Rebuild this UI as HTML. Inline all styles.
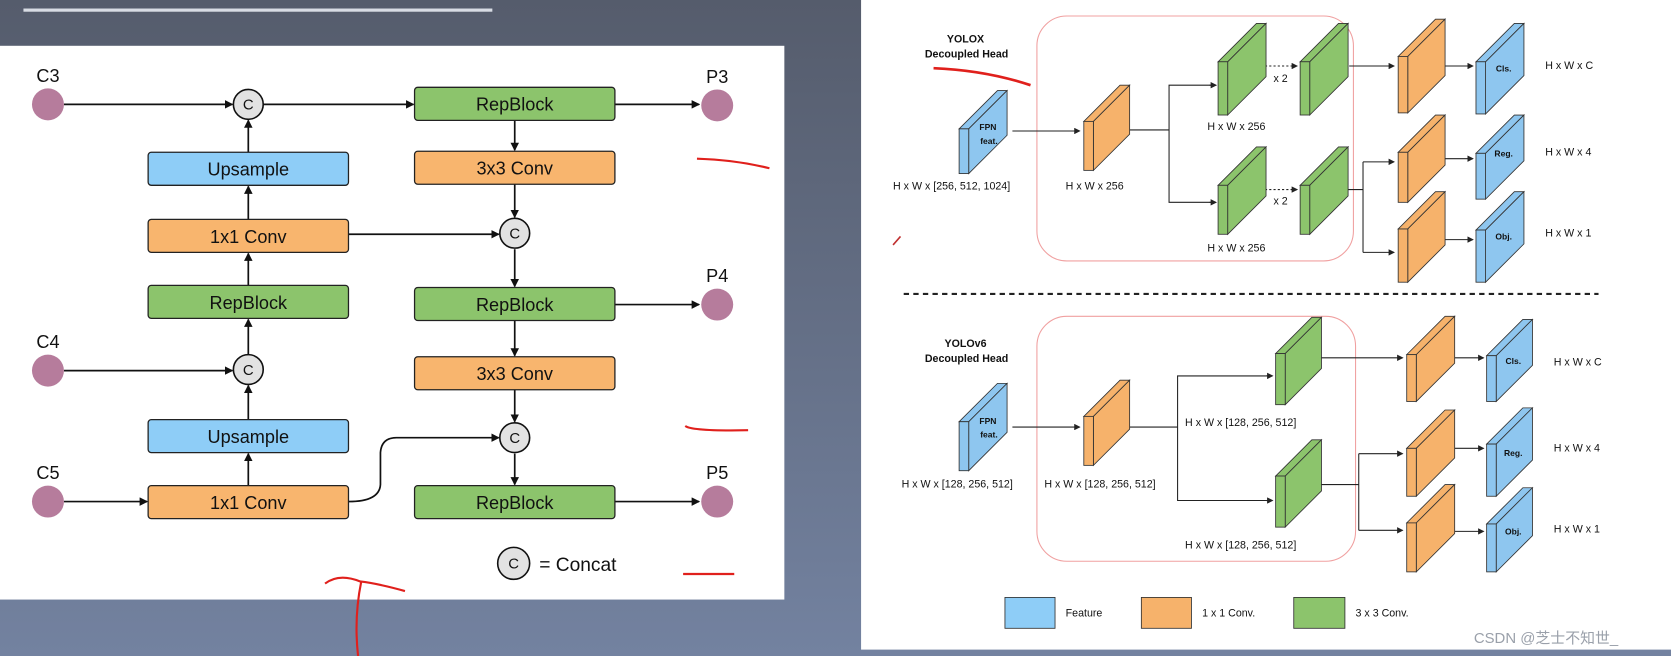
<!DOCTYPE html>
<html><head><meta charset="utf-8"><style>
html,body{margin:0;padding:0;width:1671px;height:656px;overflow:hidden;background:#5f6a80}
svg{display:block}
text{font-family:"Liberation Sans","Noto Sans CJK SC",sans-serif}
</style></head><body>
<svg id="s" width="1671" height="656" viewBox="0 0 1568 616" preserveAspectRatio="none" xmlns="http://www.w3.org/2000/svg">
<defs>
<linearGradient id="bg" x1="0" y1="0" x2="0" y2="1"><stop offset="0" stop-color="#555c6c"/><stop offset="1" stop-color="#7382a0"/></linearGradient>
<marker id="a" markerWidth="8" markerHeight="8" refX="7" refY="4" orient="auto" markerUnits="userSpaceOnUse"><path d="M0,0 L8,4 L0,8 Z" fill="#111"/></marker>
<marker id="b" markerWidth="6" markerHeight="6" refX="5" refY="3" orient="auto" markerUnits="userSpaceOnUse"><path d="M0,0 L6,3 L0,6 Z" fill="#222"/></marker>
</defs>
<rect width="1568" height="616" fill="url(#bg)"/>
<rect x="22" y="8" width="440" height="3" fill="#d8dce4"/>
<rect x="0" y="43" width="736" height="520" fill="#fff"/>
<rect x="808" y="0" width="760" height="610" fill="#fff"/>

<!-- LEFT -->
<g stroke="#111" stroke-width="1.6" fill="none" marker-end="url(#a)">
<line x1="60" y1="98" x2="218" y2="98"/>
<line x1="247" y1="98" x2="388" y2="98"/>
<line x1="577" y1="98" x2="656" y2="98"/>
<line x1="483" y1="113" x2="483" y2="141"/>
<line x1="483" y1="173" x2="483" y2="204"/>
<line x1="327" y1="220" x2="468" y2="220"/>
<line x1="483" y1="234" x2="483" y2="269"/>
<line x1="577" y1="286" x2="656" y2="286"/>
<line x1="483" y1="301" x2="483" y2="334"/>
<line x1="483" y1="366" x2="483" y2="396"/>
<line x1="483" y1="426" x2="483" y2="455"/>
<line x1="577" y1="471" x2="656" y2="471"/>
<line x1="233" y1="206" x2="233" y2="175"/>
<line x1="233" y1="143" x2="233" y2="113"/>
<line x1="233" y1="268" x2="233" y2="238"/>
<line x1="233" y1="333" x2="233" y2="300"/>
<line x1="233" y1="394" x2="233" y2="362"/>
<line x1="233" y1="456" x2="233" y2="426"/>
<line x1="60" y1="348" x2="218" y2="348"/>
<line x1="60" y1="471" x2="138" y2="471"/>
<path d="M327,471 Q356,471 357,455 L357,425 Q358,411 372,411 L468,411"/>
</g>
<g stroke="#222" stroke-width="1.2">
<rect x="389" y="82" width="188" height="31" rx="3" fill="#8cc46c"/>
<rect x="139" y="143" width="188" height="31" rx="3" fill="#8ecdf7"/>
<rect x="389" y="142" width="188" height="31" rx="3" fill="#f8b56e"/>
<rect x="139" y="206" width="188" height="31" rx="3" fill="#f8b56e"/>
<rect x="139" y="268" width="188" height="31" rx="3" fill="#8cc46c"/>
<rect x="389" y="270" width="188" height="31" rx="3" fill="#8cc46c"/>
<rect x="389" y="335" width="188" height="31" rx="3" fill="#f8b56e"/>
<rect x="139" y="394" width="188" height="31" rx="3" fill="#8ecdf7"/>
<rect x="139" y="456" width="188" height="31" rx="3" fill="#f8b56e"/>
<rect x="389" y="456" width="188" height="31" rx="3" fill="#8cc46c"/>
</g>
<g font-size="17" text-anchor="middle" fill="#111">
<text x="483" y="104">RepBlock</text>
<text x="233" y="165">Upsample</text>
<text x="483" y="164">3x3 Conv</text>
<text x="233" y="228">1x1 Conv</text>
<text x="233" y="290">RepBlock</text>
<text x="483" y="292">RepBlock</text>
<text x="483" y="357">3x3 Conv</text>
<text x="233" y="416">Upsample</text>
<text x="233" y="478">1x1 Conv</text>
<text x="483" y="478">RepBlock</text>
</g>
<g fill="#b67c9c">
<circle cx="45" cy="98" r="15"/><circle cx="45" cy="348" r="15"/><circle cx="45" cy="471" r="15"/>
<circle cx="673" cy="99" r="15"/><circle cx="673" cy="286" r="15"/><circle cx="673" cy="471" r="15"/>
</g>
<g font-size="17" text-anchor="middle" fill="#111">
<text x="45" y="77">C3</text><text x="45" y="327">C4</text><text x="45" y="450">C5</text>
<text x="673" y="78">P3</text><text x="673" y="265">P4</text><text x="673" y="450">P5</text>
</g>
<g fill="#e2e2e2" stroke="#111" stroke-width="1.5">
<circle cx="233" cy="98" r="14"/><circle cx="233" cy="347" r="14"/><circle cx="483" cy="219" r="14"/><circle cx="483" cy="411" r="14"/><circle cx="482" cy="529" r="15"/>
</g>
<g font-size="14" text-anchor="middle" fill="#111">
<text x="233" y="103">C</text><text x="233" y="352">C</text><text x="483" y="224">C</text><text x="483" y="416">C</text><text x="482" y="534">C</text>
</g>
<text x="506" y="536" font-size="18" fill="#111">= Concat</text>
<g stroke="#e0201c" stroke-width="2" fill="none">
<path d="M654,149 Q690,150 722,158"/>
<path d="M643,400 Q650,405 702,404"/>
<path d="M641,539 L689,539"/>
<path d="M305,548 Q318,538 338,546 Q355,548 380,555"/>
<path d="M339,546 Q332,580 336,616"/>
</g>

<!-- RIGHT -->
<rect x="973" y="15" width="297" height="230" rx="28" fill="none" stroke="#f0a0a0" stroke-width="1"/>
<rect x="973" y="297" width="299" height="230" rx="28" fill="none" stroke="#f0a0a0" stroke-width="1"/>
<line x1="848" y1="276" x2="1500" y2="276" stroke="#222" stroke-width="2" stroke-dasharray="5,4"/>
<g font-size="10" font-weight="bold" text-anchor="middle" fill="#111">
<text x="906" y="40">YOLOX</text><text x="907" y="54">Decoupled Head</text>
<text x="906" y="326">YOLOv6</text><text x="907" y="340">Decoupled Head</text>
</g>
<path d="M876,64 Q925,66 967,80" stroke="#e0201c" stroke-width="2.5" fill="none"/>
<path d="M838,230 L845,222" stroke="#c03030" stroke-width="1.5"/>

<g stroke="#222" stroke-width="1" fill="none">
<line x1="950" y1="123" x2="1013" y2="123" marker-end="url(#b)"/>
<line x1="1045" y1="122" x2="1097" y2="122"/>
<polyline points="1139,80 1097,80 1097,190 1139,190" />
<line x1="1135" y1="80" x2="1141" y2="80" marker-end="url(#b)"/>
<line x1="1135" y1="190" x2="1141" y2="190" marker-end="url(#b)"/>
<line x1="1175" y1="62" x2="1217" y2="62" stroke-dasharray="2,2" marker-end="url(#b)"/>
<line x1="1175" y1="178" x2="1217" y2="178" stroke-dasharray="2,2" marker-end="url(#b)"/>
<line x1="1266" y1="62" x2="1308" y2="62" marker-end="url(#b)"/>
<line x1="1340" y1="62" x2="1382" y2="62" marker-end="url(#b)"/>
<line x1="1250" y1="178" x2="1279" y2="178"/>
<polyline points="1279,152 1279,237"/>
<line x1="1279" y1="152" x2="1308" y2="152" marker-end="url(#b)"/>
<line x1="1279" y1="237" x2="1308" y2="237" marker-end="url(#b)"/>
<line x1="1340" y1="149" x2="1382" y2="149" marker-end="url(#b)"/>
<line x1="1340" y1="225" x2="1382" y2="225" marker-end="url(#b)"/>

<line x1="950" y1="401" x2="1013" y2="401" marker-end="url(#b)"/>
<line x1="1045" y1="401" x2="1105" y2="401"/>
<polyline points="1193,353 1105,353 1105,470 1193,470"/>
<line x1="1188" y1="353" x2="1194" y2="353" marker-end="url(#b)"/>
<line x1="1188" y1="470" x2="1194" y2="470" marker-end="url(#b)"/>
<line x1="1230" y1="336" x2="1316" y2="336" marker-end="url(#b)"/>
<line x1="1350" y1="336" x2="1392" y2="336" marker-end="url(#b)"/>
<line x1="1230" y1="455" x2="1275" y2="455"/>
<polyline points="1275,426 1275,498"/>
<line x1="1275" y1="426" x2="1316" y2="426" marker-end="url(#b)"/>
<line x1="1275" y1="498" x2="1316" y2="498" marker-end="url(#b)"/>
<line x1="1350" y1="421" x2="1392" y2="421" marker-end="url(#b)"/>
<line x1="1350" y1="499" x2="1392" y2="499" marker-end="url(#b)"/>
</g>

<g id="prisms" stroke="#333" stroke-width="0.8"></g>

<g font-size="8" font-weight="bold" text-anchor="middle" fill="#111">
<text x="927" y="122">FPN</text><text x="928" y="135">feat.</text>
<text x="927" y="398">FPN</text><text x="928" y="411">feat.</text>
<text x="1411" y="67">Cls.</text><text x="1411" y="147">Reg.</text><text x="1411" y="225">Obj.</text>
<text x="1420" y="342">Cls.</text><text x="1420" y="428">Reg.</text><text x="1420" y="502">Obj.</text>
</g>
<g font-size="10" fill="#111">
<text x="838" y="178">H x W x [256, 512, 1024]</text>
<text x="1000" y="178">H x W x 256</text>
<text x="1133" y="122">H x W x 256</text>
<text x="1133" y="236">H x W x 256</text>
<text x="1195" y="77">x 2</text><text x="1195" y="192">x 2</text>
<text x="1450" y="65">H x W x C</text>
<text x="1450" y="146">H x W x 4</text>
<text x="1450" y="222">H x W x 1</text>
<text x="846" y="458">H x W x [128, 256, 512]</text>
<text x="980" y="458">H x W x [128, 256, 512]</text>
<text x="1112" y="400">H x W x  [128, 256, 512]</text>
<text x="1112" y="515">H x W x  [128, 256, 512]</text>
<text x="1458" y="343">H x W x C</text>
<text x="1458" y="424">H x W x 4</text>
<text x="1458" y="500">H x W x 1</text>
<text x="1000" y="579">Feature</text>
<text x="1128" y="579">1 x 1 Conv.</text>
<text x="1272" y="579">3 x 3 Conv.</text>
</g>
<g stroke="#333" stroke-width="0.8">
<rect x="943" y="561" width="47" height="29" fill="#8ecdf7"/>
<rect x="1071" y="561" width="47" height="29" fill="#f6b26b"/>
<rect x="1214" y="561" width="48" height="29" fill="#8cc46c"/>
</g>
<text x="1383" y="604" font-size="14" fill="#9aa0aa">CSDN @芝士不知世_</text>
</svg>
<script>
(function(){
var B="#8ec6ef",O="#f6b26b",G="#8cc46c";
var P=[[900,85,945,163,B],[1017,80,1060,160,O],[1143,22,1188,108,G],[1220,22,1265,108,G],
[1143,138,1188,220,G],[1220,138,1265,220,G],[1312,18,1356,106,O],[1312,108,1356,190,O],[1312,180,1356,265,O],
[1385,22,1430,107,B],[1385,108,1430,187,B],[1385,180,1430,265,B],
[900,360,945,442,B],[1017,357,1060,437,O],[1197,298,1240,380,G],[1197,413,1240,495,G],
[1320,297,1365,377,O],[1320,385,1365,466,O],[1320,455,1365,537,O],
[1395,300,1438,377,B],[1395,383,1438,466,B],[1395,458,1438,537,B]];
var g=document.getElementById("prisms"),ns="http://www.w3.org/2000/svg",h="";
P.forEach(function(p){var x0=p[0],yT=p[1],x1=p[2],yB=p[3],c=p[4],w=9,d=x1-x0-w;
h+='<polygon fill="'+c+'" points="'+x0+','+(yT+d)+' '+(x0+d)+','+yT+' '+x1+','+yT+' '+(x0+w)+','+(yT+d)+'"/>';
h+='<polygon fill="'+c+'" points="'+(x0+w)+','+(yT+d)+' '+x1+','+yT+' '+x1+','+(yB-d)+' '+(x0+w)+','+yB+'"/>';
h+='<rect fill="'+c+'" x="'+x0+'" y="'+(yT+d)+'" width="'+w+'" height="'+(yB-yT-d)+'"/>';});
g.innerHTML=h;})();
</script>
</body></html>
